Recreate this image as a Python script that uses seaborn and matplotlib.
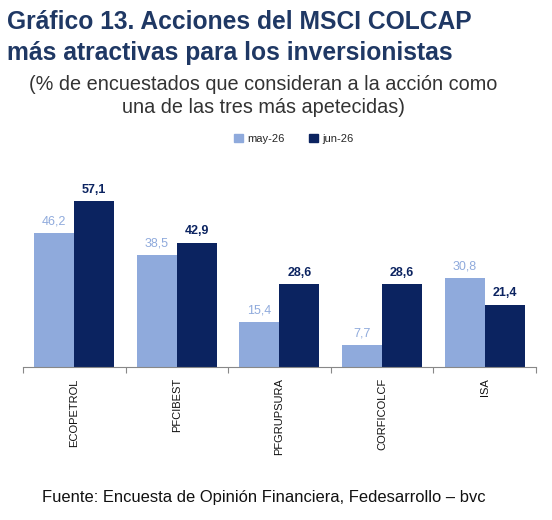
import matplotlib
matplotlib.use("Agg")
import matplotlib.pyplot as plt
import seaborn as sns
import pandas as pd
from matplotlib.ticker import FixedLocator
from matplotlib.patches import Patch

acciones = ["ECOPETROL", "PFCIBEST", "PFGRUPSURA", "CORFICOLCF", "ISA"]
may_26 = [46.2, 38.5, 15.4, 7.7, 30.8]
jun_26 = [57.1, 42.9, 28.6, 28.6, 21.4]
periodos = ["may-26", "jun-26"]

c_may = "#8faadc"
c_jun = "#0b2360"
c_title = "#1f3864"

sns.set_theme(style="white")
plt.rcParams["font.family"] = ["Liberation Sans", "DejaVu Sans"]

df = pd.DataFrame({
    "accion": acciones * 2,
    "periodo": [periodos[0]] * 5 + [periodos[1]] * 5,
    "valor": may_26 + jun_26,
})

fig = plt.figure(figsize=(5.52, 5.2), dpi=100)
ax = fig.add_axes([0.0417, 0.294, 0.929, 0.335])

sns.barplot(data=df, x="accion", y="valor", hue="periodo", palette=[c_may, c_jun],
            width=0.78, saturation=1, linewidth=0, ax=ax, legend=False)

ax.set_ylim(0, 60)
ax.set_xlim(-0.5, 4.5)
ax.set_yticks([])
ax.set_xlabel("")
ax.set_ylabel("")
for s in ["top", "right", "left"]:
    ax.spines[s].set_visible(False)
ax.spines["bottom"].set_color("#888888")
ax.spines["bottom"].set_linewidth(0.8)

ax.set_xticks(range(len(acciones)))
ax.set_xticklabels(acciones, rotation=90, fontsize=8, color="#111111")
ax.tick_params(axis="x", which="major", length=0, pad=8)
ax.xaxis.set_minor_locator(FixedLocator([i - 0.5 for i in range(len(acciones) + 1)]))
ax.tick_params(axis="x", which="minor", length=4, color="#888888", width=0.8, bottom=True)

for cont, col, wt in zip(ax.containers, [c_may, c_jun], ["normal", "bold"]):
    labels = [f"{v:.1f}".replace(".", ",") for v in cont.datavalues]
    ax.bar_label(cont, labels=labels, padding=4, fontsize=9, color=col, fontweight=wt)

handles = [Patch(color=c_may), Patch(color=c_jun)]
fig.legend(handles, periodos, loc="center", bbox_to_anchor=(0.532, 0.733), ncol=2,
           frameon=False, fontsize=8, handlelength=0.8, handleheight=0.8,
           columnspacing=2.2, handletextpad=0.4)

fig.text(0.013, 0.957, "Gráfico 13. Acciones del MSCI COLCAP", fontsize=17.7,
         fontweight="bold", color=c_title, va="center", ha="left")
fig.text(0.013, 0.899, "más atractivas para los inversionistas", fontsize=17.7,
         fontweight="bold", color=c_title, va="center", ha="left")
fig.text(0.477, 0.838, "(% de encuestados que consideran a la acción como", fontsize=14.3,
         color="#333333", va="center", ha="center")
fig.text(0.477, 0.793, "una de las tres más apetecidas)", fontsize=14.3,
         color="#333333", va="center", ha="center")
fig.text(0.477, 0.044, "Fuente: Encuesta de Opinión Financiera, Fedesarrollo – bvc",
         fontsize=11.9, color="#111111", va="center", ha="center")

fig.savefig("out.png", dpi=100)
